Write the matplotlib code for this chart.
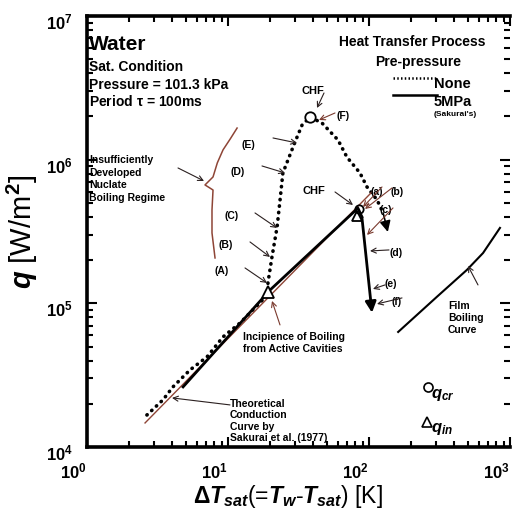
import numpy as np
import matplotlib.pyplot as plt
from matplotlib import transforms
from matplotlib.ticker import FuncFormatter, LogLocator, NullFormatter

plt.rcParams['font.family'] = ['Liberation Sans', 'DejaVu Sans']
plt.rcParams['font.weight'] = 'bold'
plt.rcParams['mathtext.fontset'] = 'custom'
plt.rcParams['mathtext.rm'] = 'Liberation Sans:bold'
plt.rcParams['mathtext.it'] = 'Liberation Sans:bold:italic'
plt.rcParams['mathtext.bf'] = 'Liberation Sans:bold'

# -----------------------
# data
# -----------------------
# no pre-pressure (dotted)
dt_none = [2.66, 3.46, 4.07, 5.38, 7.10, 9.22, 12.2, 17.7, 19.2, 19.2, 20.5, 22.3,
           23.4, 24.5, 29.9, 33.5, 38.2, 46.4, 60.3, 69.8, 86.3, 96.8, 114, 126, 136]
q_none = [1.67e4, 2.13e4, 2.62e4, 3.44e4, 4.24e4, 5.84e4, 7.31e4, 1.06e5, 1.20e5,
          1.39e5, 2.10e5, 3.40e5, 5.25e5, 8.08e5, 1.33e6, 1.74e6, 1.98e6, 1.80e6,
          1.37e6, 1.04e6, 8.08e5, 6.46e5, 5.25e5, 4.26e5, 3.14e5]
# 5 MPa pre-pressure (Sakurai, solid)
dt_5mpa = [4.8, 19.9, 83.5, 89.0, 105]
q_5mpa = [2.62e4, 1.24e5, 4.6e5, 4.0e5, 8.6e4]
# theoretical conduction curve
dt_cond = [2.58, 105]
q_cond = [1.47e4, 5.96e5]
# film boiling curve
dt_film = [161, 303, 495, 644, 849]
q_film = [6.32e4, 1.11e5, 1.71e5, 2.24e5, 3.35e5]
# CHF / incipience points
chf_dt = [38.2, 84.9]
chf_q = [1.98e6, 4.55e5]
inc_dt = [19.2, 82.2]
inc_q = [1.20e5, 4.05e5]
# brace around insufficiently developed regime
brace_dt = [11.6, 10.4, 9.22, 8.4, 7.83, 6.87, 7.83, 7.70, 7.70, 8.09]
brace_q = [1.66e6, 1.40e6, 1.17e6, 9.5e5, 7.58e5, 6.67e5, 6.15e5, 4.47e5, 3.09e5, 2.07e5]


def P(px, py):
    # reference pixel position -> data coordinates
    return 10 ** ((px - 87) / 141), 10 ** (7 - (py - 16) / 143.7)


fig = plt.figure(figsize=(5.12, 5.11), dpi=100)
ax = fig.add_axes([87 / 512, 64 / 511, 423 / 512, 431 / 511])
ax.set_xscale('log')
ax.set_yscale('log')
ax.set_xlim(1, 1000)
ax.set_ylim(1e4, 1e7)

dotkw = dict(color='black', lw=2.6, linestyle=(0, (0.1, 1.7)), dash_capstyle='round')
ax.plot(dt_none[:-1], q_none[:-1], **dotkw)
ax.plot(dt_cond, q_cond, color='#8e4536', lw=1.0)
ax.plot(dt_5mpa[:-1], q_5mpa[:-1], color='black', lw=2.0)
ax.plot(dt_film, q_film, color='black', lw=1.5)
ax.plot(brace_dt, brace_q, color='#8e4536', lw=1.1)

# arrow heads at curve ends
ax.annotate('', xy=(dt_none[-1], q_none[-1]), xytext=(dt_none[-2], q_none[-2]),
            arrowprops=dict(arrowstyle='-|>', color='black', lw=1.2, mutation_scale=16,
                            shrinkA=0, shrinkB=0))
ax.annotate('', xy=(dt_5mpa[-1], q_5mpa[-1]), xytext=(dt_5mpa[-2], q_5mpa[-2]),
            arrowprops=dict(arrowstyle='-|>', color='black', lw=2.0, mutation_scale=16,
                            shrinkA=0, shrinkB=0))

ax.plot(chf_dt[:1], chf_q[:1], 'o', ms=7.5, mfc='white', mec='black', mew=1.3)
ax.plot(inc_dt[:1], inc_q[:1], '^', ms=8.5, mfc='white', mec='black', mew=1.3)
ax.plot(inc_dt[1:], inc_q[1:], '^', ms=6.5, mfc='white', mec='black', mew=1.3)
ax.plot(chf_dt[1:], chf_q[1:], 'o', ms=6, mfc='none', mec='black', mew=1.3)

# axes styling
for side in ['left', 'bottom', 'top']:
    ax.spines[side].set_linewidth(2.6)
ax.spines['right'].set_visible(False)
ax.tick_params(which='both', direction='in', top=True, right=True, width=1.5)
ax.tick_params(which='major', length=7)
ax.tick_params(which='minor', length=4)
ax.xaxis.set_minor_locator(LogLocator(subs=np.arange(2, 10)))
ax.yaxis.set_minor_locator(LogLocator(subs=np.arange(2, 10)))
ax.xaxis.set_minor_formatter(NullFormatter())
ax.yaxis.set_minor_formatter(NullFormatter())
fmt = FuncFormatter(lambda v, p: r'$10^{%d}$' % round(np.log10(v)))
ax.xaxis.set_major_formatter(fmt)
ax.yaxis.set_major_formatter(fmt)
ax.tick_params(which='major', labelsize=12, pad=8)

xoff = transforms.ScaledTranslation(-0.14, -0.03, fig.dpi_scale_trans)
yoff = transforms.ScaledTranslation(-0.03, -0.05, fig.dpi_scale_trans)
for t in ax.xaxis.get_major_ticks():
    t.label1.set_transform(t.label1.get_transform() + xoff)
for t in ax.yaxis.get_major_ticks():
    t.label1.set_transform(t.label1.get_transform() + yoff)

ax.set_ylabel(r'$q$ [W/m$^2$]', fontsize=21)
ax.yaxis.set_label_coords(-0.11, 0.5)
ax.set_xlabel(r'$\mathit{\Delta T}_{sat}$(=$T_w$-$T_{sat}$) [K]', fontsize=16.5)
ax.xaxis.set_label_coords(0.475, -0.084)

# texts
ax.text(*P(89, 45), 'Water', fontsize=15, va='center')
ax.text(*P(89, 67), 'Sat. Condition', fontsize=10, va='center')
ax.text(*P(89, 85), 'Pressure = 101.3 kPa', fontsize=10, va='center')
ax.text(*P(89, 102), r'Period $\mathrm{\tau}$ = 100ms', fontsize=10, va='center')
for i, s in enumerate(['Insufficiently', 'Developed', 'Nuclate', 'Boiling Regime']):
    ax.text(*P(89, 160 + 12.7 * i), s, fontsize=7.5, va='center')

ax.text(*P(412, 42), 'Heat Transfer Process', fontsize=10, ha='center', va='center')
ax.text(*P(418, 62), 'Pre-pressure', fontsize=10, ha='center', va='center')
ax.plot(*zip(P(393, 78), P(437, 78)), color='black', lw=1.8, linestyle=(0, (0.6, 0.9)))
ax.plot(*zip(P(393, 95), P(437, 95)), color='black', lw=1.8)
ax.text(*P(434, 84), 'None', fontsize=10.5, va='center')
ax.text(*P(434, 102), '5MPa', fontsize=10.5, va='center')
ax.text(*P(434, 115), "(Sakurai's)", fontsize=6, va='center')

small = dict(fontsize=7.5, ha='center', va='center')
for s, x, y in [('(E)', 248, 145), ('(D)', 238, 172), ('(C)', 232, 216),
                ('(B)', 226, 245), ('(A)', 222, 271), ('(F)', 343, 116),
                ('(a)', 377, 192), ('(b)', 397, 192), ('(c)', 386, 210),
                ('(d)', 396, 253), ('(e)', 391, 284), ('(f)', 397, 302)]:
    ax.text(*P(x, y), s, **small)
ax.text(*P(313, 91), 'CHF', fontsize=8, ha='center', va='center')
ax.text(*P(314, 191), 'CHF', fontsize=8, ha='center', va='center')
ax.text(*P(243, 343), 'Incipience of Boiling\nfrom Active Cavities', fontsize=7.5,
        va='center', linespacing=1.25)
ax.text(*P(230, 421), 'Theoretical\nConduction\nCurve by\nSakurai et al. (1977)',
        fontsize=7.5, va='center', linespacing=1.15)
ax.text(*P(448, 318), 'Film\nBoiling\nCurve', fontsize=7.5, va='center', linespacing=1.2)

ax.plot(*P(428, 387), 'o', ms=6.5, mfc='white', mec='black', mew=1.2)
ax.text(*P(431, 395), r'$q_{cr}$', fontsize=12, va='center')
ax.plot(*P(427, 422), '^', ms=7, mfc='white', mec='black', mew=1.2)
ax.text(*P(431, 429), r'$q_{in}$', fontsize=12, va='center')

# pointer arrows
dark = '#2b2020'
brown = '#7a3a2e'
arrows = [((178, 168), (204, 181), dark),
          ((273, 138), (297, 143), dark), ((262, 166), (285, 173), dark),
          ((255, 213), (277, 228), dark), ((250, 242), (270, 257), dark),
          ((245, 268), (267, 283), dark),
          ((324, 93), (317, 108), dark), ((335, 113), (319, 120), brown),
          ((335, 192), (353, 205), dark),
          ((382, 187), (363, 207), brown), ((392, 188), (365, 209), brown),
          ((393, 208), (367, 235), brown), ((389, 250), (370, 251), dark),
          ((385, 285), (373, 289), dark), ((402, 298), (377, 304), dark),
          ((280, 325), (272, 301), brown), ((230, 405), (172, 398), dark),
          ((478, 285), (468, 266), dark)]
for (tail, tip, col) in arrows:
    ax.annotate('', xy=P(*tip), xytext=P(*tail),
                arrowprops=dict(arrowstyle='->', color=col, lw=0.8, mutation_scale=9,
                                shrinkA=0, shrinkB=0))

fig.savefig('out.png', dpi=100)
